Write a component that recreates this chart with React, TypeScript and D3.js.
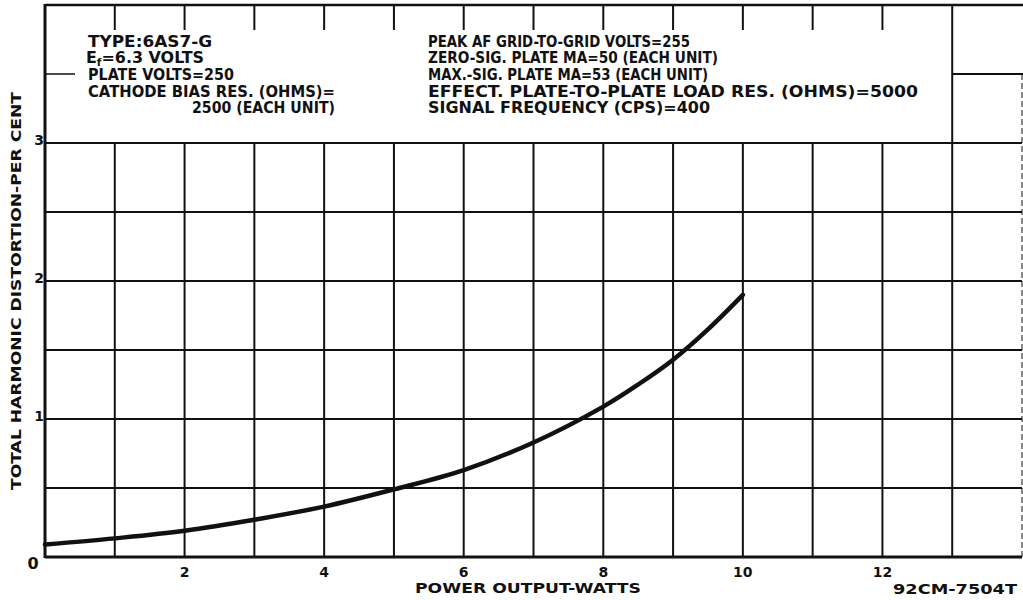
import React from "react";
import * as d3 from "d3";

const powerWatts = [0, 1, 2, 3, 4, 5, 6, 7, 8, 8.5, 9, 9.5, 10];
const distortionPct = [0.09, 0.135, 0.19, 0.27, 0.365, 0.49, 0.63, 0.83, 1.09, 1.25, 1.43, 1.65, 1.9];

const xTickLabels = [2, 4, 6, 8, 10, 12];
const yTickLabels = [1, 2, 3];
const xGrid = [1, 2, 3, 4, 5, 6, 7, 8, 9, 10, 11, 12, 13];
const yGrid = [0.5, 1, 1.5, 2, 2.5, 3];

const leftNotes = [
  "TYPE:6AS7-G",
  "Ef=6.3 VOLTS",
  "PLATE VOLTS=250",
  "CATHODE BIAS RES. (OHMS)=",
  "2500 (EACH UNIT)",
];
const rightNotes = [
  "PEAK AF GRID-TO-GRID VOLTS=255",
  "ZERO-SIG. PLATE MA=50 (EACH UNIT)",
  "MAX.-SIG. PLATE MA=53 (EACH UNIT)",
  "EFFECT. PLATE-TO-PLATE LOAD RES. (OHMS)=5000",
  "SIGNAL FREQUENCY (CPS)=400",
];

const W = 1023;
const H = 600;
const FONT = "'DejaVu Sans', 'Liberation Sans', sans-serif";

export default function App() {
  const x = d3.scaleLinear().domain([0, 14]).range([45, 1022]);
  const y = d3.scaleLinear().domain([0, 4]).range([557, 5]);

  const line = d3
    .line<number>()
    .x((_, i) => x(powerWatts[i]))
    .y((d) => y(d))
    .curve(d3.curveCatmullRom.alpha(0.5));

  const ink = "#111";

  const leftWidths = [124, 118, 146, 247, 143];
  const leftX = [88, 86, 88, 88, 192];
  const rightWidths = [262, 290, 280, 490, 282];
  const rowY = [47, 63, 80, 97, 113];

  return (
    <svg
      width={W}
      height={H}
      style={{ position: "absolute", left: 0, top: 0, background: "#fff" }}
      fontFamily={FONT}
    >
      <rect x={0} y={0} width={W} height={H} fill="#fff" />
      {/* top border */}
      <line x1={x(0)} x2={W} y1={y(4)} y2={y(4)} stroke={ink} strokeWidth={2.5} />
      {/* top ticks */}
      {xGrid.slice(0, 12).map((v) => (
        <line key={"tt" + v} x1={x(v)} x2={x(v)} y1={y(4)} y2={30} stroke={ink} strokeWidth={2} />
      ))}
      {/* 3.5 stubs */}
      <line x1={x(0)} x2={75} y1={y(3.5)} y2={y(3.5)} stroke={ink} strokeWidth={1.5} />
      <line x1={x(13)} x2={W} y1={y(3.5)} y2={y(3.5)} stroke={ink} strokeWidth={2} />
      {/* horizontal grid */}
      {yGrid.map((v) => (
        <line key={"h" + v} x1={x(0)} x2={x(14)} y1={y(v)} y2={y(v)} stroke={ink} strokeWidth={2} />
      ))}
      {/* vertical grid */}
      {xGrid.map((v) => (
        <line
          key={"v" + v}
          x1={x(v)}
          x2={x(v)}
          y1={v === 13 ? y(4) : y(3)}
          y2={y(0)}
          stroke={ink}
          strokeWidth={2}
        />
      ))}
      {/* right border (faint) */}
      <line x1={x(14)} x2={x(14)} y1={y(3.5)} y2={y(0)} stroke={ink} strokeWidth={1} strokeDasharray="6 3" />
      {/* left and bottom axes */}
      <line x1={x(0)} x2={x(0)} y1={y(4) - 1} y2={y(0) + 1} stroke={ink} strokeWidth={3} />
      <line x1={x(0)} x2={x(14)} y1={y(0)} y2={y(0)} stroke={ink} strokeWidth={2.8} />

      {/* curve */}
      <path d={line(distortionPct) || ""} fill="none" stroke={ink} strokeWidth={4.5} strokeLinecap="round" />

      {/* notes */}
      {leftNotes.map((t, i) => {
        if (i === 1) {
          return (
            <text
              key={t}
              x={leftX[i]}
              y={rowY[i]}
              fontSize={15}
              fontWeight="bold"
              fill={ink}
              textLength={leftWidths[i]}
              lengthAdjust="spacingAndGlyphs"
            >
              E
              <tspan fontSize={10} dy={3}>f</tspan>
              <tspan dy={-3}>=6.3 VOLTS</tspan>
            </text>
          );
        }
        return (
          <text
            key={t}
            x={leftX[i]}
            y={rowY[i]}
            fontSize={i === 0 ? 16.5 : 15}
            fontWeight="bold"
            fill={ink}
            textLength={leftWidths[i]}
            lengthAdjust="spacingAndGlyphs"
          >
            {t}
          </text>
        );
      })}
      {rightNotes.map((t, i) => (
        <text
          key={t}
          x={428}
          y={rowY[i]}
          fontSize={15}
          fontWeight="bold"
          fill={ink}
          textLength={rightWidths[i]}
          lengthAdjust="spacingAndGlyphs"
        >
          {t}
        </text>
      ))}

      {/* x tick labels */}
      <text x={33} y={569} fontSize={16} fontWeight="bold" textAnchor="middle" fill={ink}>0</text>
      {xTickLabels.map((v) => (
        <text key={"xl" + v} x={x(v)} y={577} fontSize={14} fontWeight="bold" textAnchor="middle" fill={ink}>
          {v}
        </text>
      ))}
      {/* y tick labels */}
      {yTickLabels.map((v) => (
        <text key={"yl" + v} x={39} y={y(v) + 2} fontSize={14} fontWeight="bold" textAnchor="middle" fill={ink}>
          {v}
        </text>
      ))}

      {/* axis titles */}
      <text
        x={528}
        y={593}
        fontSize={14.5}
        fontWeight="bold"
        textAnchor="middle"
        fill={ink}
        textLength={226}
        lengthAdjust="spacingAndGlyphs"
      >
        POWER OUTPUT-WATTS
      </text>
      <text
        x={955}
        y={594}
        fontSize={14.5}
        fontWeight="bold"
        textAnchor="middle"
        fill={ink}
        textLength={124}
        lengthAdjust="spacingAndGlyphs"
      >
        92CM-7504T
      </text>
      <text
        transform={`translate(21, 291) rotate(-90)`}
        fontSize={14.5}
        fontWeight="bold"
        textAnchor="middle"
        fill={ink}
        textLength={398}
        lengthAdjust="spacingAndGlyphs"
      >
        TOTAL HARMONIC DISTORTION-PER CENT
      </text>
    </svg>
  );
}
